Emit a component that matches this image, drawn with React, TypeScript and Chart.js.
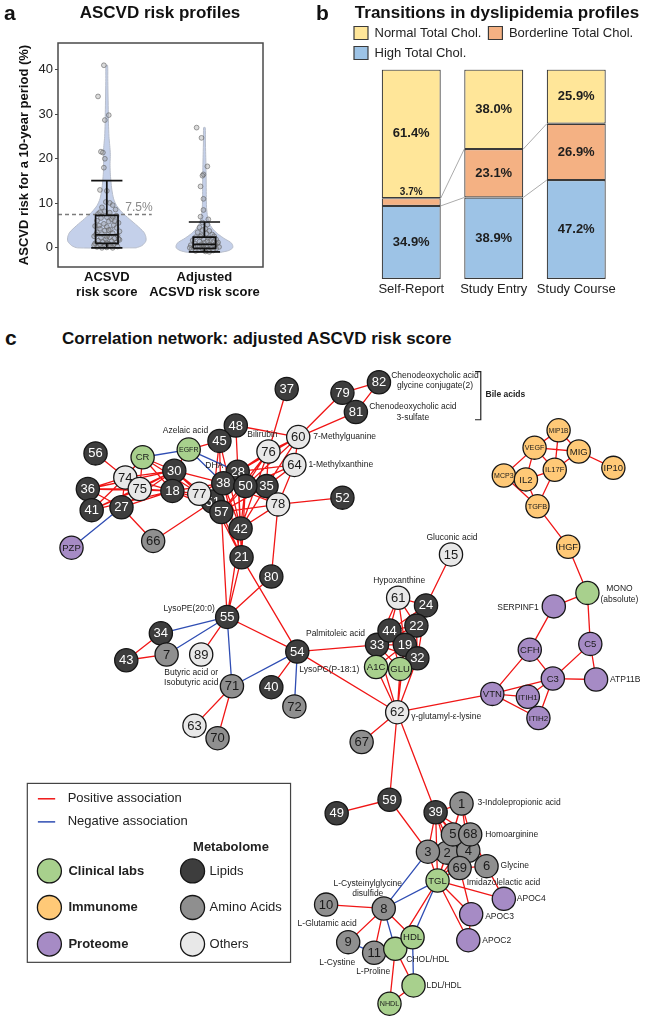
import React, { useEffect, useRef } from 'react';
import { Chart, registerables } from 'chart.js';

Chart.register(...registerables);

const FONT = '"Liberation Sans", Arial, Helvetica, sans-serif';
Chart.defaults.font.family = FONT;
Chart.defaults.color = '#222';

// ================= Panel a : ASCVD risk profiles =================
const riskGroups = [1, 2];
const riskGroupLabels = [['ACSVD', 'risk score'], ['Adjusted', 'ACSVD risk score']];
const riskTicks = [0, 10, 20, 30, 40];
const riskThreshold = 7.5;
const boxQ1 = [1.0, -0.1];
const boxMedian = [2.9, 0.8];
const boxQ3 = [7.3, 2.4];
const whiskerLow = [0.0, -0.9];
const whiskerHigh = [15.1, 5.8];

const violin1Levels = [0, 0.5, 1.5, 2.5, 3.5, 5, 6.5, 8, 9.5, 11, 13, 15, 17, 19, 21, 23, 25, 28, 31, 35, 38, 41];
const violin1Width = [0.3, 0.36, 0.4, 0.4, 0.38, 0.31, 0.23, 0.155, 0.1, 0.07, 0.052, 0.042, 0.035, 0.033, 0.036, 0.03, 0.022, 0.017, 0.015, 0.012, 0.01, 0.008];
const violin2Levels = [-1, -0.6, 0, 0.5, 1, 1.5, 2, 3, 4, 5, 6, 7, 9, 12, 15, 18, 21, 24, 27];
const violin2Width = [0.17, 0.25, 0.29, 0.29, 0.28, 0.25, 0.21, 0.145, 0.095, 0.062, 0.045, 0.032, 0.022, 0.019, 0.018, 0.016, 0.013, 0.01, 0.008];

const risk1Values = [41.0, 34.0, 29.8, 28.7, 21.6, 21.4, 20.0, 18.0, 13.0, 12.8, 10.3, 10.1, 9.6, 9.1, 8.6, 8.2, 7.9, 7.6, 7.2, 6.9, 6.7, 6.4, 6.1, 5.9, 5.6, 5.4, 5.1, 4.9, 4.7, 4.5, 4.3, 4.1, 3.9, 3.7, 3.5, 3.3, 3.1, 2.9, 2.8, 2.6, 2.4, 2.3, 2.1, 1.9, 1.8, 1.6, 1.5, 1.3, 1.2, 1.0, 0.9, 0.8, 0.7, 0.5, 0.4, 0.3, 0.2, 0.1, 0.0, 0.0, 6.0, 3.0, 2.0, 1.1, 0.6, 4.0, 5.0, 7.0, 8.0, 2.5];
const risk1Jitter = [-0.03, -0.09, 0.02, -0.02, -0.06, -0.04, -0.02, -0.03, -0.07, 0.0, -0.01, 0.03, 0.06, -0.05, 0.09, -0.02, 0.03, -0.09, 0.1, 0.0, -0.06, 0.05, -0.1, 0.02, 0.12, -0.03, 0.07, -0.12, 0.0, 0.1, -0.07, 0.04, -0.02, 0.13, -0.1, 0.06, -0.05, 0.01, 0.11, -0.13, 0.03, -0.06, 0.08, -0.01, 0.13, -0.09, 0.05, -0.04, 0.1, -0.12, 0.02, 0.07, -0.07, 0.04, -0.02, 0.11, -0.1, 0.0, 0.06, -0.05, 0.08, -0.11, 0.12, 0.0, -0.13, 0.02, -0.08, 0.06, -0.07, 0.0];
const risk2Values = [27.0, 24.7, 18.3, 16.5, 16.2, 13.8, 11.0, 8.5, 7.0, 6.4, 5.7, 5.2, 4.6, 4.3, 4.0, 3.8, 3.5, 3.2, 3.0, 2.8, 2.6, 2.4, 2.2, 2.0, 1.9, 1.7, 1.6, 1.4, 1.3, 1.1, 1.0, 0.9, 0.8, 0.7, 0.6, 0.5, 0.4, 0.3, 0.2, 0.1, 0.0, -0.1, -0.2, -0.3, -0.4, -0.5, -0.6, -0.7, -0.8, -0.9, 0.5, 1.5, 2.5, 0.2, -0.2, 1.2, 0.8, 0.0];
const risk2Jitter = [-0.08, -0.03, 0.03, -0.01, -0.02, -0.04, -0.01, -0.01, -0.04, 0.04, -0.02, 0.03, -0.05, 0.01, -0.02, 0.05, -0.07, 0.02, 0.08, -0.03, 0.1, -0.09, 0.04, -0.01, 0.12, -0.12, 0.06, -0.05, 0.09, 0.0, -0.1, 0.13, -0.03, 0.05, -0.14, 0.1, -0.07, 0.02, 0.15, -0.11, 0.07, -0.02, 0.12, -0.13, 0.04, -0.06, 0.09, -0.09, 0.01, 0.05, -0.01, 0.03, -0.04, -0.05, 0.0, 0.14, 0.11, -0.15];

// ================= Panel b : dyslipidemia =================
const cholStages = ['Self-Report', 'Study Entry', 'Study Course'];
const highChol = [34.9, 38.9, 47.2];
const borderlineChol = [3.7, 23.1, 26.9];
const normalChol = [61.4, 38.0, 25.9];

// ================= Panel c : correlation network =================
const nodeNames = [
  '56', '37', '48', '45', 'EGFR', 'CR', '36', '41', '74', '75', '27', '30', '18', '66', 'PZP',
  '51', '77', '57', '28', '38', '35', '50', '76', '60', '64', '78', '42', '21', '80', '52', '79', '82', '81',
  '55', '34', '7', '43', '89', '71', '63', '70', '54', '40', '72',
  '15', '61', '24', '22', '33', '44', '19', '32', 'A1C', 'GLU', '62', '67',
  'MIP1B', 'VEGF', 'MIG', 'IP10', 'MCP3', 'IL2', 'IL17F', 'TGFB', 'HGF',
  'MONO', 'SERPINF1', 'CFH', 'C5', 'C3', 'ATP11B', 'VTN', 'ITIH1', 'ITIH2',
  '59', '49', '2', '4', '5', '68', '3', '69', '6', '1', '39', 'TGL', '10', '8', '9', '11', 'CHOL/HDL', 'HDL', 'LDL/HDL', 'NHDL', 'APOC4', 'APOC3', 'APOC2',
];
const nodeLayoutX = [
  86, 285, 232, 215, 183, 135, 78, 82, 117, 132, 113, 168, 166, 146, 61,
  208, 194, 217, 234, 219, 264, 242, 266, 297, 293, 276, 237, 238, 269, 343, 343, 381, 357,
  223, 154, 160, 118, 196, 228, 189, 213, 296, 269, 293,
  456, 401, 430, 420, 379, 392, 408, 421, 378, 403, 400, 363,
  568, 543, 589, 625, 511, 534, 564, 546, 578,
  598, 563, 538, 601, 562, 607, 499, 536, 547,
  392, 337, 452, 474, 458, 476, 432, 465, 493, 467, 440, 442, 326, 386, 349, 376, 398, 416, 417, 392, 511, 477, 474,
];
const nodeLayoutY = [
  444, 377, 415, 431, 440, 448, 481, 503, 469, 481, 500, 462, 483, 535, 542,
  494, 486, 505, 463, 475, 478, 478, 442, 427, 456, 497, 522, 552, 572, 490, 381, 370, 401,
  614, 631, 653, 659, 653, 686, 727, 740, 650, 687, 707,
  549, 594, 602, 623, 643, 628, 643, 657, 666, 668, 713, 744,
  420, 438, 442, 459, 467, 471, 461, 499, 541,
  589, 603, 648, 642, 678, 679, 694, 697, 719,
  804, 818, 859, 857, 840, 840, 858, 875, 873, 808, 817, 888, 913, 917, 952, 963, 959, 947, 997, 1016, 907, 923, 950,
];
const lipidNodes = ['56', '37', '48', '45', '36', '41', '27', '30', '18', '51', '57', '28', '38', '35', '50', '42', '21', '80', '52', '79', '82', '81', '55', '34', '43', '54', '40', '24', '22', '33', '44', '19', '32', '59', '49', '39'];
const aminoAcidNodes = ['66', '7', '71', '70', '72', '67', '2', '4', '5', '68', '3', '69', '6', '1', '10', '8', '9', '11'];
const otherMetaboliteNodes = ['74', '75', '77', '76', '60', '64', '78', '89', '63', '15', '61', '62'];
const clinicalNodes = ['EGFR', 'CR', 'A1C', 'GLU', 'MONO', 'TGL', 'CHOL/HDL', 'HDL', 'LDL/HDL', 'NHDL'];
const immunomeNodes = ['MIP1B', 'VEGF', 'MIG', 'IP10', 'MCP3', 'IL2', 'IL17F', 'TGFB', 'HGF'];
const proteomeNodes = ['PZP', 'SERPINF1', 'CFH', 'C5', 'C3', 'ATP11B', 'VTN', 'ITIH1', 'ITIH2', 'APOC4', 'APOC3', 'APOC2'];
const outsideLabelledNodes = ['MONO', 'SERPINF1', 'ATP11B', 'CHOL/HDL', 'LDL/HDL', 'APOC4', 'APOC3', 'APOC2'];

const positiveEdges = [
  ['56', '74'], ['74', '36'], ['74', '41'], ['74', '27'], ['74', '30'], ['74', '18'], ['74', 'CR'],
  ['75', '36'], ['75', '41'], ['75', '30'], ['75', '18'], ['75', 'CR'],
  ['36', '30'], ['36', '18'], ['36', '27'], ['41', '18'], ['41', '30'], ['27', '30'], ['27', '18'], ['27', '66'],
  ['CR', '30'], ['CR', '18'], ['CR', '77'],
  ['30', '77'], ['30', '38'], ['30', '51'], ['18', '77'], ['18', '38'], ['18', '51'], ['18', '57'],
  ['EGFR', '30'], ['EGFR', '45'], ['45', '48'], ['45', '51'], ['45', '57'], ['45', '42'], ['48', '60'], ['48', '42'],
  ['66', '51'], ['77', '28'], ['77', '50'],
  ['37', '76'], ['60', '76'], ['60', '28'], ['60', '50'], ['60', '35'], ['60', '79'], ['60', '81'], ['60', '64'],
  ['76', '28'], ['76', '38'], ['76', '50'], ['76', '35'], ['76', '57'], ['76', '42'],
  ['64', '50'], ['64', '35'], ['64', '78'], ['64', '28'],
  ['28', '42'], ['28', '21'], ['38', '42'], ['38', '21'], ['38', '57'], ['50', '42'], ['50', '21'], ['50', '57'], ['50', '78'],
  ['35', '42'], ['35', '57'], ['35', '78'],
  ['78', '52'], ['78', '80'], ['78', '42'], ['78', '57'], ['78', '38'],
  ['51', '21'], ['57', '21'], ['42', '21'], ['79', '82'], ['81', '82'],
  ['42', '55'], ['21', '55'], ['57', '55'], ['21', '54'], ['80', '55'], ['55', '54'], ['55', '89'],
  ['34', '43'], ['34', '7'], ['43', '7'], ['71', '63'], ['71', '70'], ['54', '40'], ['54', '33'], ['54', '62'], ['15', '24'],
  ['61', '44'], ['61', '22'], ['61', '19'], ['61', '24'], ['61', '33'], ['24', '22'], ['24', '44'], ['24', '19'], ['24', '32'],
  ['22', '44'], ['22', '33'], ['22', '19'], ['22', '32'], ['44', '33'], ['44', '19'], ['44', '32'], ['33', '19'], ['33', '32'], ['19', '32'],
  ['33', 'A1C'], ['33', 'GLU'], ['19', 'A1C'], ['19', 'GLU'], ['32', 'GLU'], ['44', 'GLU'],
  ['62', 'A1C'], ['62', 'GLU'], ['62', '33'], ['62', '19'], ['62', '32'],
  ['62', 'VTN'], ['62', '67'], ['62', '59'], ['62', '39'],
  ['VTN', 'CFH'], ['VTN', 'C3'], ['VTN', 'ITIH1'], ['VTN', 'ITIH2'], ['CFH', 'C3'], ['CFH', 'SERPINF1'], ['SERPINF1', 'MONO'],
  ['MONO', 'C5'], ['MONO', 'HGF'], ['HGF', 'TGFB'],
  ['C3', 'C5'], ['C3', 'ATP11B'], ['C3', 'ITIH1'], ['C3', 'ITIH2'], ['C5', 'ATP11B'], ['ITIH1', 'ITIH2'],
  ['MIP1B', 'VEGF'], ['MIP1B', 'MIG'], ['MIP1B', 'IL17F'], ['VEGF', 'MIG'], ['VEGF', 'IL2'], ['VEGF', 'MCP3'], ['VEGF', 'IL17F'],
  ['MIG', 'IL17F'], ['MIG', 'IP10'], ['IL17F', 'IL2'], ['IL17F', 'TGFB'], ['MCP3', 'IL2'], ['MCP3', 'TGFB'], ['IL2', 'TGFB'],
  ['59', '49'], ['59', '3'],
  ['39', '1'], ['39', '5'], ['39', '68'], ['39', '3'], ['39', '2'], ['39', '4'], ['39', '69'], ['39', 'TGL'],
  ['1', '5'], ['1', '68'], ['1', '2'], ['1', '4'],
  ['3', 'TGL'], ['2', 'TGL'], ['5', 'TGL'], ['68', 'TGL'], ['4', 'TGL'], ['69', 'TGL'], ['6', '4'], ['6', '69'], ['6', '68'],
  ['6', 'APOC4'], ['69', 'APOC3'],
  ['TGL', 'APOC4'], ['TGL', 'APOC3'], ['TGL', 'APOC2'], ['TGL', 'CHOL/HDL'], ['APOC3', 'APOC2'],
  ['8', '10'], ['8', '9'], ['8', '11'], ['8', 'HDL'], ['HDL', 'CHOL/HDL'], ['CHOL/HDL', 'NHDL'], ['CHOL/HDL', 'LDL/HDL'], ['NHDL', 'LDL/HDL'],
];
const negativeEdges = [
  ['CR', 'EGFR'], ['EGFR', '38'], ['EGFR', '28'], ['27', 'PZP'], ['55', '34'], ['55', '7'], ['55', '71'], ['71', '54'],
  ['54', '72'], ['9', '11'], ['3', '8'], ['TGL', '8'], ['TGL', 'HDL'], ['8', 'CHOL/HDL'], ['HDL', 'LDL/HDL'],
];

const noteNodes = ['82', '81', '60', '64', '76', '45', '38', '55', '89', '54', '33', '61', '15', '62', 'SERPINF1', 'MONO', 'ATP11B',
  '1', '68', '6', '69', 'APOC4', 'APOC3', 'APOC2', 'LDL/HDL', 'CHOL/HDL', '8', '10', '9', '11'];
const noteTexts = ['Chenodeoxycholic acid\nglycine conjugate(2)', 'Chenodeoxycholic acid\n3-sulfate', '7-Methylguanine', '1-Methylxanthine',
  'Bilirubin', 'Azelaic acid', 'DHA', 'LysoPE(20:0)', 'Butyric acid or\nIsobutyric acid', 'LysoPC(P-18:1)', 'Palmitoleic acid',
  'Hypoxanthine', 'Gluconic acid', 'γ-glutamyl-ε-lysine', 'SERPINF1', 'MONO\n(absolute)', 'ATP11B',
  '3-Indolepropionic acid', 'Homoarginine', 'Glycine', 'Imidazolelactic acid', 'APOC4', 'APOC3', 'APOC2', 'LDL/HDL', 'CHOL/HDL',
  'L-Cysteinylglycine\ndisulfide', 'L-Glutamic acid', 'L-Cystine', 'L-Proline'];

// ---- styling (placement of annotation text relative to its node) ----
const notePlacement: Record<string, [number, number, string]> = {
  '82': [56, -7, 'center'], '81': [57, -5, 'center'], '60': [15, 0, 'left'], '64': [14, 0, 'left'], '76': [-6, -17, 'center'],
  '45': [-34, -10, 'center'], '38': [-9, -18, 'center'], '55': [-38, -8, 'center'], '89': [-10, 18, 'center'],
  '54': [2, 18, 'left'], '33': [-12, -11, 'right'], '61': [1, -17, 'center'], '15': [1, -17, 'center'], '62': [14, 4, 'left'],
  'SERPINF1': [-15, 1, 'right'], 'MONO': [32, -4, 'center'], 'ATP11B': [14, 0, 'left'], '1': [16, -1, 'left'], '68': [15, 0, 'left'],
  '6': [14, 0, 'left'], '69': [7, 15, 'left'], 'APOC4': [13, 0, 'left'], 'APOC3': [14, 2, 'left'], 'APOC2': [14, 0, 'left'],
  'LDL/HDL': [13, 0, 'left'], 'CHOL/HDL': [11, 11, 'left'], '8': [-16, -25, 'center'], '10': [1, 19, 'center'],
  '9': [-11, 21, 'center'], '11': [-1, 19, 'center'],
};
const groupColor: Record<string, string> = {
  lipid: '#3d3d3d', amino: '#8f8f8f', other: '#e8e8e8', clinical: '#a8d08d', immunome: '#ffc977', proteome: '#a68bc5',
};
const EDGE_POS = '#f01616';
const EDGE_NEG = '#2f4db3';

function groupOf(n: string) {
  if (lipidNodes.includes(n)) return 'lipid';
  if (aminoAcidNodes.includes(n)) return 'amino';
  if (otherMetaboliteNodes.includes(n)) return 'other';
  if (clinicalNodes.includes(n)) return 'clinical';
  if (immunomeNodes.includes(n)) return 'immunome';
  if (proteomeNodes.includes(n)) return 'proteome';
  return 'other';
}
const nodeIndex = new Map(nodeNames.map((n, i) => [n, i]));
const GAP = { x: NaN, y: NaN };

function edgeData(pairs: string[][]) {
  const out: any[] = [];
  for (const [a, b] of pairs) {
    const i = nodeIndex.get(a);
    const j = nodeIndex.get(b);
    if (i == null || j == null) continue;
    out.push({ x: nodeLayoutX[i], y: nodeLayoutY[i] }, { x: nodeLayoutX[j], y: nodeLayoutY[j] }, GAP);
  }
  return out;
}

// ================= chart builders =================
const BOX_HALF = 0.115;
const CAP_HALF = 0.16;

function violinShape(center: number, levels: number[], widths: number[]) {
  const right = levels.map((v, i) => ({ x: center + widths[i], y: v }));
  const left = levels.map((v, i) => ({ x: center - widths[i], y: v })).reverse();
  return [...right, ...left, right[0]];
}
function boxShape(g: number) {
  const c = riskGroups[g];
  return [
    { x: c - BOX_HALF, y: boxQ1[g] }, { x: c + BOX_HALF, y: boxQ1[g] }, { x: c + BOX_HALF, y: boxQ3[g] }, { x: c - BOX_HALF, y: boxQ3[g] }, { x: c - BOX_HALF, y: boxQ1[g] }, GAP,
    { x: c - BOX_HALF, y: boxMedian[g] }, { x: c + BOX_HALF, y: boxMedian[g] }, GAP,
    { x: c, y: boxQ3[g] }, { x: c, y: whiskerHigh[g] }, GAP,
    { x: c, y: boxQ1[g] }, { x: c, y: whiskerLow[g] }, GAP,
    { x: c - CAP_HALF, y: whiskerHigh[g] }, { x: c + CAP_HALF, y: whiskerHigh[g] }, GAP,
    { x: c - CAP_HALF, y: whiskerLow[g] }, { x: c + CAP_HALF, y: whiskerLow[g] },
  ];
}

const frameAPlugin = {
  id: 'frameA',
  afterDatasetsDraw(chart: any) {
    const { ctx, chartArea: a } = chart;
    ctx.save();
    ctx.strokeStyle = '#4a4a4a';
    ctx.lineWidth = 1.5;
    ctx.strokeRect(a.left, a.top, a.right - a.left, a.bottom - a.top);
    const y = chart.scales.y.getPixelForValue(riskThreshold);
    const x = chart.scales.x.getPixelForValue(1.19);
    ctx.font = `12px ${FONT}`;
    ctx.fillStyle = '#8a8a8a';
    ctx.textAlign = 'left';
    ctx.textBaseline = 'alphabetic';
    ctx.fillText('7.5%', x, y - 3);
    ctx.restore();
  },
};

function configA(): any {
  const pointStyle = {
    showLine: false, pointRadius: 2.4, pointBackgroundColor: 'rgba(150,150,150,0.35)',
    pointBorderColor: 'rgba(95,95,95,0.75)', pointBorderWidth: 0.8, order: 3,
  };
  const lineStyle = { showLine: true, pointRadius: 0, spanGaps: false };
  return {
    type: 'scatter',
    data: {
      datasets: [
        { ...lineStyle, data: violinShape(riskGroups[0], violin1Levels, violin1Width), fill: 'shape', backgroundColor: '#c4d0ea', borderColor: '#b7bdca', borderWidth: 1, tension: 0.25, order: 5 },
        { ...lineStyle, data: violinShape(riskGroups[1], violin2Levels, violin2Width), fill: 'shape', backgroundColor: '#c4d0ea', borderColor: '#b7bdca', borderWidth: 1, tension: 0.25, order: 5 },
        { ...lineStyle, data: [{ x: 0.5, y: riskThreshold }, { x: 1.46, y: riskThreshold }], borderColor: '#7c7c7c', borderWidth: 1.6, borderDash: [4, 3], order: 4 },
        { ...pointStyle, data: risk1Values.map((v, i) => ({ x: riskGroups[0] + risk1Jitter[i], y: v })) },
        { ...pointStyle, data: risk2Values.map((v, i) => ({ x: riskGroups[1] + risk2Jitter[i], y: v })) },
        { ...lineStyle, data: boxShape(0), borderColor: '#111', borderWidth: 1.7, order: 1 },
        { ...lineStyle, data: boxShape(1), borderColor: '#111', borderWidth: 1.7, order: 1 },
      ],
    },
    options: {
      responsive: false, animation: false, events: [],
      layout: { padding: { left: 13, top: 43, right: 67, bottom: 0 } },
      plugins: { legend: { display: false }, tooltip: { enabled: false } },
      scales: {
        x: {
          type: 'linear', min: 0.5, max: 2.6,
          grid: { display: false, drawTicks: false }, border: { display: false },
          afterBuildTicks: (s: any) => { s.ticks = riskGroups.map((v) => ({ value: v })); },
          afterFit: (s: any) => { s.height = 43; },
          ticks: {
            callback: (_v: any, i: number) => riskGroupLabels[i],
            font: { size: 13, weight: 'bold', lineHeight: 1.15 }, color: '#111', padding: 2.5, maxRotation: 0, autoSkip: false,
          },
        },
        y: {
          type: 'linear', min: -4.3, max: 46,
          afterBuildTicks: (s: any) => { s.ticks = riskTicks.map((v) => ({ value: v })); },
          afterFit: (s: any) => { s.width = 45; },
          grid: { display: true, drawOnChartArea: false, drawTicks: true, tickLength: 3, color: '#444' },
          border: { display: false },
          ticks: { font: { size: 13 }, color: '#222', padding: 2 },
          title: { display: true, text: 'ASCVD risk for a 10-year period (%)', font: { size: 13, weight: 'bold' }, color: '#111', padding: { top: 4, bottom: 0 } },
        },
      },
    },
    plugins: [frameAPlugin],
  };
}

const barDecorPlugin = {
  id: 'barDecor',
  beforeDatasetsDraw(chart: any) {
    const ctx = chart.ctx;
    ctx.save();
    ctx.strokeStyle = '#ababab';
    ctx.lineWidth = 1;
    for (const d of [0, 1]) {
      const meta = chart.getDatasetMeta(d);
      for (let i = 0; i < meta.data.length - 1; i++) {
        const b1: any = meta.data[i];
        const b2: any = meta.data[i + 1];
        ctx.beginPath();
        ctx.moveTo(b1.x + b1.width / 2, b1.y);
        ctx.lineTo(b2.x - b2.width / 2, b2.y);
        ctx.stroke();
      }
    }
    ctx.restore();
  },
  afterDatasetsDraw(chart: any) {
    const ctx = chart.ctx;
    ctx.save();
    ctx.fillStyle = '#1e1e1e';
    ctx.textAlign = 'center';
    ctx.textBaseline = 'middle';
    chart.data.datasets.forEach((ds: any, d: number) => {
      const meta = chart.getDatasetMeta(d);
      meta.data.forEach((el: any, i: number) => {
        const v = ds.data[i];
        const h = Math.abs(el.base - el.y);
        const txt = v.toFixed(1) + '%';
        if (h < 18) {
          ctx.font = `bold 10px ${FONT}`;
          ctx.fillText(txt, el.x, Math.min(el.y, el.base) - 6);
        } else {
          ctx.font = `bold 13px ${FONT}`;
          ctx.fillText(txt, el.x, (el.y + el.base) / 2);
        }
      });
    });
    ctx.restore();
  },
};

function configB(): any {
  const common = { borderColor: '#3a3a3a', borderWidth: 1.2, borderSkipped: false, barPercentage: 0.715, categoryPercentage: 1 };
  return {
    type: 'bar',
    data: {
      labels: cholStages,
      datasets: [
        { ...common, label: 'High Total Chol.', data: highChol, backgroundColor: '#9dc3e6' },
        { ...common, label: 'Borderline Total Chol.', data: borderlineChol, backgroundColor: '#f4b183' },
        { ...common, label: 'Normal Total Chol.', data: normalChol, backgroundColor: '#ffe699' },
      ],
    },
    options: {
      responsive: false, animation: false, events: [],
      layout: { padding: { left: 17, top: 19.5, right: 0, bottom: 0 } },
      plugins: {
        tooltip: { enabled: false },
        legend: {
          position: 'top', align: 'start', reverse: true,
          labels: { boxWidth: 14, boxHeight: 13, padding: 7, font: { size: 13 }, color: '#222' },
        },
      },
      scales: {
        x: {
          stacked: true, grid: { display: false, drawTicks: false }, border: { display: false },
          ticks: { font: { size: 13 }, color: '#222', padding: 3, maxRotation: 0, autoSkip: false },
          afterFit: (s: any) => { s.height = 21; },
        },
        y: {
          stacked: true, min: 0, max: 100, position: 'left',
          ticks: { display: false }, grid: { display: false }, border: { display: false },
          afterFit: (s: any) => { s.width = 23; },
        },
        y2: {
          type: 'linear', position: 'right', min: 0, max: 1,
          ticks: { display: false }, grid: { display: false }, border: { display: false },
          afterFit: (s: any) => { s.width = 39.5; },
        },
      },
    },
    plugins: [barDecorPlugin],
  };
}

const netPlugin = {
  id: 'netDecor',
  afterDatasetDraw(chart: any, args: any) {
    const ds: any = chart.data.datasets[args.index];
    if (!ds.nodeText) return;
    const el = args.meta.data[0];
    if (!el) return;
    const ctx = chart.ctx;
    ctx.save();
    const numeric = /^\d+$/.test(ds.nodeText);
    let size = numeric ? 13 : 9.5;
    ctx.font = `${size}px ${FONT}`;
    if (!numeric) {
      const w = ctx.measureText(ds.nodeText).width;
      if (w > 19.5) {
        size = (size * 19.5) / w;
        ctx.font = `${size}px ${FONT}`;
      }
    }
    ctx.fillStyle = ds.nodeGroup === 'lipid' ? '#ffffff' : '#1a1a1a';
    ctx.textAlign = 'center';
    ctx.textBaseline = 'middle';
    ctx.fillText(ds.nodeText, el.x, el.y + 0.5);
    ctx.restore();
  },
  afterDraw(chart: any) {
    const ctx = chart.ctx;
    const sx = (v: number) => chart.scales.x.getPixelForValue(v);
    const sy = (v: number) => chart.scales.y.getPixelForValue(v);
    ctx.save();
    // annotations next to nodes
    ctx.font = `8.5px ${FONT}`;
    ctx.fillStyle = '#222';
    ctx.textBaseline = 'middle';
    noteNodes.forEach((n, i) => {
      const k = nodeIndex.get(n);
      const p = notePlacement[n];
      if (k == null || !p) return;
      ctx.textAlign = p[2];
      noteTexts[i].split('\n').forEach((t, j) => {
        ctx.fillText(t, sx(nodeLayoutX[k]) + p[0], sy(nodeLayoutY[k]) + p[1] + j * 10.5);
      });
    });
    // bile acids bracket
    ctx.strokeStyle = '#222';
    ctx.lineWidth = 1.2;
    ctx.beginPath();
    ctx.moveTo(sx(481), sy(359));
    ctx.lineTo(sx(487), sy(359));
    ctx.lineTo(sx(487), sy(409));
    ctx.lineTo(sx(481), sy(409));
    ctx.stroke();
    ctx.font = `bold 8.5px ${FONT}`;
    ctx.textAlign = 'left';
    ctx.fillText('Bile acids', sx(492), sy(383));

    // legend
    ctx.lineWidth = 1.2;
    ctx.strokeStyle = '#444';
    ctx.strokeRect(sx(15), sy(787), sx(289) - sx(15), sy(973) - sy(787));
    ctx.lineWidth = 1.5;
    ctx.strokeStyle = EDGE_POS;
    ctx.beginPath(); ctx.moveTo(sx(26), sy(803)); ctx.lineTo(sx(44), sy(803)); ctx.stroke();
    ctx.strokeStyle = EDGE_NEG;
    ctx.beginPath(); ctx.moveTo(sx(26), sy(827)); ctx.lineTo(sx(44), sy(827)); ctx.stroke();
    ctx.fillStyle = '#222';
    ctx.font = `13px ${FONT}`;
    ctx.fillText('Positive association', sx(57), sy(803));
    ctx.fillText('Negative association', sx(57), sy(827));
    ctx.font = `bold 13px ${FONT}`;
    ctx.textAlign = 'center';
    ctx.fillText('Metabolome', sx(227), sy(854));
    const items: [string, string, number, number, boolean][] = [
      ['Clinical labs', 'clinical', 38, 878, true], ['Immunome', 'immunome', 38, 916, true], ['Proteome', 'proteome', 38, 954, true],
      ['Lipids', 'lipid', 187, 878, false], ['Amino Acids', 'amino', 187, 916, false], ['Others', 'other', 187, 954, false],
    ];
    for (const [label, g, cx, cy, bold] of items) {
      ctx.beginPath();
      ctx.arc(sx(cx), sy(cy), 12, 0, Math.PI * 2);
      ctx.fillStyle = groupColor[g];
      ctx.fill();
      ctx.lineWidth = 1.3;
      ctx.strokeStyle = '#161616';
      ctx.stroke();
      ctx.fillStyle = '#222';
      ctx.textAlign = 'left';
      ctx.font = `${bold ? 'bold ' : ''}13px ${FONT}`;
      ctx.fillText(label, sx(cx) + (bold ? 19 : 17), sy(cy));
    }
    ctx.restore();
  },
};

function configC(): any {
  const N = nodeNames.length;
  const nodeSets = nodeNames.map((n, k) => {
    const g = groupOf(n);
    return {
      data: [{ x: nodeLayoutX[k], y: nodeLayoutY[k] }],
      pointRadius: 11.6,
      pointBackgroundColor: groupColor[g],
      pointBorderColor: '#161616',
      pointBorderWidth: 1.3,
      order: N - k + 1,
      nodeText: outsideLabelledNodes.includes(n) ? '' : n,
      nodeGroup: g,
    };
  });
  const edgeStyle = { showLine: true, pointRadius: 0, borderWidth: 1.3, spanGaps: false };
  return {
    type: 'scatter',
    data: {
      datasets: [
        ...nodeSets,
        { ...edgeStyle, data: edgeData(negativeEdges), borderColor: EDGE_NEG, order: N + 10 },
        { ...edgeStyle, data: edgeData(positiveEdges), borderColor: EDGE_POS, order: N + 11 },
      ],
    },
    options: {
      responsive: false, animation: false, events: [],
      layout: { padding: 0 },
      plugins: { legend: { display: false }, tooltip: { enabled: false } },
      scales: {
        x: { type: 'linear', min: 0, max: 657, display: false },
        y: { type: 'linear', min: 352, max: 1032, reverse: true, display: false },
      },
    },
    plugins: [netPlugin],
  };
}

const textBase: React.CSSProperties = { position: 'absolute', whiteSpace: 'nowrap', fontFamily: FONT, color: '#111' };

export default function App() {
  const refA = useRef<HTMLCanvasElement>(null);
  const refB = useRef<HTMLCanvasElement>(null);
  const refC = useRef<HTMLCanvasElement>(null);

  useEffect(() => {
    const a = new Chart(refA.current as HTMLCanvasElement, configA());
    const b = new Chart(refB.current as HTMLCanvasElement, configB());
    const c = new Chart(refC.current as HTMLCanvasElement, configC());
    return () => {
      a.destroy();
      b.destroy();
      c.destroy();
    };
  }, []);

  return (
    <div style={{ position: 'absolute', left: 0, top: 0, width: 657, height: 1032, background: '#fff', overflow: 'hidden' }}>
      <canvas ref={refA} width={330} height={310} style={{ position: 'absolute', left: 0, top: 0, width: 330, height: 310 }} />
      <canvas ref={refB} width={327} height={300} style={{ position: 'absolute', left: 330, top: 0, width: 327, height: 300 }} />
      <canvas ref={refC} width={657} height={680} style={{ position: 'absolute', left: 0, top: 352, width: 657, height: 680 }} />
      <div style={{ ...textBase, left: 4, top: 2, fontSize: 21, fontWeight: 'bold', lineHeight: '22px' }}>a</div>
      <div style={{ ...textBase, left: 60, top: 3, width: 200, textAlign: 'center', fontSize: 17, fontWeight: 'bold', lineHeight: '20px' }}>ASCVD risk profiles</div>
      <div style={{ ...textBase, left: 316, top: 2, fontSize: 21, fontWeight: 'bold', lineHeight: '22px' }}>b</div>
      <div style={{ ...textBase, left: 337, top: 3, width: 320, textAlign: 'center', fontSize: 17, fontWeight: 'bold', lineHeight: '20px' }}>Transitions in dyslipidemia profiles</div>
      <div style={{ ...textBase, left: 5, top: 327, fontSize: 21, fontWeight: 'bold', lineHeight: '22px' }}>c</div>
      <div style={{ ...textBase, left: 62, top: 329, fontSize: 17, fontWeight: 'bold', lineHeight: '20px' }}>Correlation network: adjusted ASCVD risk score</div>
    </div>
  );
}
